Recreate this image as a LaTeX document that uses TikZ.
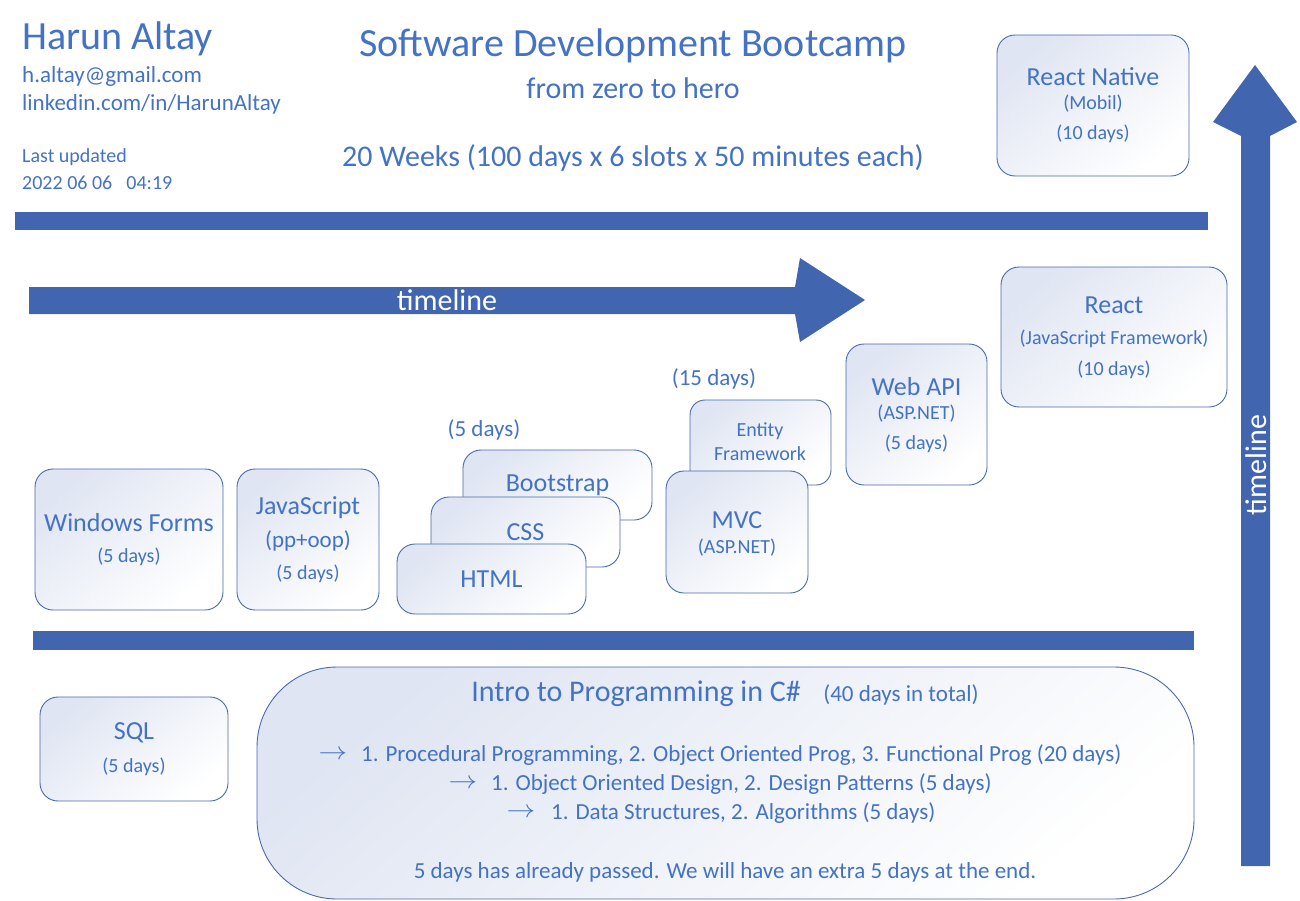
\documentclass[tikz,border=0pt]{standalone}
\usepackage{fontspec}
\setmainfont{Carlito}
\definecolor{txt}{HTML}{4472C4}
\definecolor{shp}{HTML}{4166AF}
\definecolor{bln}{HTML}{4A6AAE}
\definecolor{btop}{HTML}{DFE5F2}
\newcommand\fsz[1]{\fontsize{#1}{#1}\selectfont}
\newcommand\rarr{\fontsize{23}{23}\selectfont$\rightarrow$}
\tikzset{
  box/.style={draw=bln, line width=0.9pt, rounded corners=18pt, top color=btop, bottom color=white, shading angle=40, inner sep=0pt},
  tx/.style={text=txt, inner sep=0pt},
  wt/.style={text=white, inner sep=0pt},
  ar/.style={text=txt, inner sep=0pt, xscale=1.15},
}
\begin{document}
\begin{tikzpicture}[x=1pt, y=-1pt]
\useasboundingbox (0,0) rectangle (1300,901);
% header
\node[tx, anchor=base west] (name) at (22,50) {\fsz{40}Harun Altay};
\node[tx, anchor=base west] (mail) at (22,83) {\fsz{23}h.altay@gmail.com};
\node[tx, anchor=base west] (link) at (22,111) {\fsz{23}linkedin.com/in/HarunAltay};
\node[tx, anchor=base west] (upd) at (22,163) {\fsz{20}Last updated};
\node[tx, anchor=base west] (date) at (22,190) {\fsz{20}2022 06 06\hspace{14pt}04:19};
\node[tx] (title) at (633,46) {\fsz{40}Software Development Bootcamp};
\node[tx] (sub) at (633,88) {\fsz{30}from zero to hero};
\node[tx] (weeks) at (633,158) {\fsz{30}20 Weeks (100 days x 6 slots x 50 minutes each)};
% bars
\fill[shp] (15,212) rectangle (1208,230);
\fill[shp] (33,631) rectangle (1194,650);
% horizontal arrow
\fill[shp] (29,287) -- (795,287) -- (800,258) -- (865,300) -- (800,342) -- (795,314) -- (29,314) -- cycle;
\node[wt] (tl1) at (447,300) {\fsz{30}timeline};
% vertical arrow
\fill[shp] (1241,866) -- (1241,136) -- (1213,122) -- (1255,65) -- (1297,122) -- (1270,136) -- (1270,866) -- cycle;
\node[wt, rotate=90] (tl2) at (1256,465) {\fsz{30}timeline};
% React Native
\node[box, minimum width=192pt, minimum height=141pt] (rn) at (1093,105.5) {};
\node[tx] (rn1) at (1093,77) {\fsz{26}React Native};
\node[tx] (rn2) at (1093,104) {\fsz{20}(Mobil)};
\node[tx] (rn3) at (1093,134) {\fsz{20}(10 days)};
% React
\node[box, minimum width=226pt, minimum height=140pt] (re) at (1114,337) {};
\node[tx] (re1) at (1114,305) {\fsz{26}React};
\node[tx] (re2) at (1114,339) {\fsz{20}(JavaScript Framework)};
\node[tx] (re3) at (1114,370) {\fsz{20}(10 days)};
% Web API
\node[box, minimum width=141pt, minimum height=141pt] (wa) at (916.5,414.5) {};
\node[tx] (wa1) at (916.5,387) {\fsz{26}Web API};
\node[tx] (wa2) at (916.5,414) {\fsz{20}(ASP.NET)};
\node[tx] (wa3) at (916.5,444) {\fsz{20}(5 days)};
% EF + MVC
\node[tx] (l15) at (714,379) {\fsz{23}(15 days)};
\node[box, rounded corners=15pt, minimum width=141pt, minimum height=85pt] (ef) at (760.5,442.5) {};
\node[tx] (ef1) at (760,431) {\fsz{20}Entity};
\node[tx] (ef2) at (760,454) {\fsz{20}Framework};
\node[box, minimum width=142pt, minimum height=122pt] (mvc) at (737,532) {};
\node[tx] (mvc1) at (737,520) {\fsz{26}MVC};
\node[tx] (mvc2) at (737,548) {\fsz{20}(ASP.NET)};
% HTML stack
\node[tx] (l5) at (484,430) {\fsz{23}(5 days)};
\node[box, minimum width=189pt, minimum height=70pt] (bs) at (557.5,485) {};
\node[tx] (bs1) at (557.5,485) {\fsz{26}Bootstrap};
\node[box, minimum width=189pt, minimum height=70pt] (css) at (525.5,532) {};
\node[tx] (css1) at (525.5,532) {\fsz{26}CSS};
\node[box, minimum width=189pt, minimum height=70pt] (html) at (491.5,579) {};
\node[tx] (html1) at (491.5,579) {\fsz{26}HTML};
% Windows Forms
\node[box, minimum width=188pt, minimum height=141pt] (wf) at (129,539.5) {};
\node[tx] (wf1) at (129,523) {\fsz{26}Windows Forms};
\node[tx] (wf2) at (129,557) {\fsz{20}(5 days)};
% JavaScript
\node[box, minimum width=142pt, minimum height=141pt] (js) at (308,539.5) {};
\node[tx] (js1) at (308,508) {\fsz{26}JavaScript};
\node[tx] (js2) at (308,541) {\fsz{23}(pp+oop)};
\node[tx] (js3) at (308,574) {\fsz{20}(5 days)};
% SQL
\node[box, minimum width=188pt, minimum height=104pt] (sql) at (134,749) {};
\node[tx] (sql1) at (134,733) {\fsz{26}SQL};
\node[tx] (sql2) at (134,767) {\fsz{20}(5 days)};
% Intro
\node[box, rounded corners=80pt, minimum width=937pt, minimum height=232pt] (intro) at (725.5,783) {};
\node[tx] (in1) at (636,694) {\fsz{30}Intro to Programming in C\#};
\node[tx] (in2) at (901,695) {\fsz{23}(40 days in total)};
\node[ar] (a1) at (333,755) {\rarr};
\node[tx, anchor=west] (t1) at (361,755) {\fsz{23}1. Procedural Programming, 2. Object Oriented Prog, 3. Functional Prog (20 days)};
\node[ar] (a2) at (463,784) {\rarr};
\node[tx, anchor=west] (t2) at (491,784) {\fsz{23}1. Object Oriented Design, 2. Design Patterns (5 days)};
\node[ar] (a3) at (521,813) {\rarr};
\node[tx, anchor=west] (t3) at (551,813) {\fsz{23}1. Data Structures, 2. Algorithms (5 days)};
\node[tx] (in5) at (725,872) {\fsz{23}5 days has already passed. We will have an extra 5 days at the end.};
\end{tikzpicture}
\end{document}
